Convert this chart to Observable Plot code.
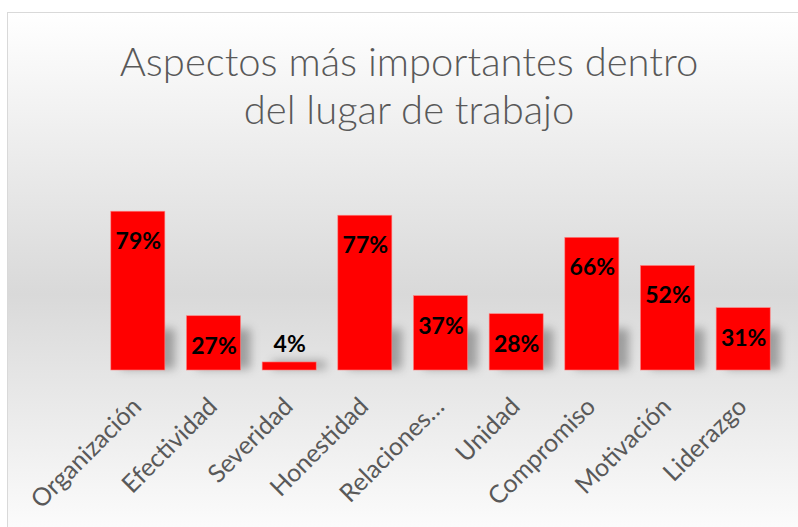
<!DOCTYPE html>
<html>
<head>
<meta charset="utf-8">
<script src="https://cdn.jsdelivr.net/npm/d3@7"></script>
<script src="https://cdn.jsdelivr.net/npm/@observablehq/plot@0.6"></script>
<style>
  html, body { margin: 0; padding: 0; background: #fff; width: 798px; height: 527px; overflow: hidden; }
  #frame {
    position: absolute; left: 7px; top: 12px; width: 820px; height: 540px;
    border: 1px solid #d9d9d9;
    background: linear-gradient(to bottom, #ffffff 0%, #d9d9d9 52%, #ffffff 100%);
  }
  #title {
    position: absolute; left: 0; top: 37px; width: 818px; text-align: center;
    font-family: Lato, "Open Sans", sans-serif; font-weight: 300; font-size: 40px; line-height: 48px;
    color: #595959;
  }
  #chart { position: absolute; left: 0; top: 140px; }
</style>
</head>
<body>
<div id="frame"></div>
<div id="title">Aspectos más importantes dentro<br>del lugar de trabajo</div>
<div id="chart"></div>
<script>
const categories = ["Organización", "Efectividad", "Severidad", "Honestidad", "Relaciones…", "Unidad", "Compromiso", "Motivación", "Liderazgo"];
const values = [0.79, 0.27, 0.04, 0.77, 0.37, 0.28, 0.66, 0.52, 0.31];
const labels = ["79%", "27%", "4%", "77%", "37%", "28%", "66%", "52%", "31%"];

const data = categories.map((c, i) => ({name: c, value: values[i], label: labels[i]}));

const chart = Plot.plot({
  width: 798,
  height: 387,
  marginTop: 29,
  marginBottom: 157,
  marginLeft: 100,
  marginRight: 17,
  style: {background: "transparent", overflow: "visible"},
  x: {domain: categories, paddingInner: 0.286, paddingOuter: 0.143, round: false, axis: null},
  y: {domain: [0, 1], axis: null},
  marks: [
    Plot.barY(data, {x: "name", y1: 0, y2: d => Math.min(d.value, 0.2), fill: "#000", fillOpacity: 0.3, dx: 10, dy: -1}),
    Plot.barY(data, {x: "name", y: "value", fill: "#ff0000", stroke: "#ff8080", strokeWidth: 0.6}),
    Plot.text(data.filter(d => d.value >= 0.1), {x: "name", y: "value", text: "label", dy: 30, fill: "#000",
      fontFamily: "Lato, sans-serif", fontWeight: "bold", fontSize: 23}),
    Plot.text(data.filter(d => d.value < 0.1), {x: "name", y: "value", text: "label", dy: -18, fill: "#000",
      fontFamily: "Lato, sans-serif", fontWeight: "bold", fontSize: 23}),
    Plot.text(data, {x: "name", y: 0, text: "name", rotate: -45, textAnchor: "end", dx: -1, dy: 32, fill: "#595959",
      fontFamily: "Lato, sans-serif", fontSize: 25})
  ]
});

// soft blur for the floor shadow (first bar group)
const ns = "http://www.w3.org/2000/svg";
const defs = document.createElementNS(ns, "defs");
const filter = document.createElementNS(ns, "filter");
filter.setAttribute("id", "shadowBlur");
filter.setAttribute("x", "-50%"); filter.setAttribute("y", "-50%");
filter.setAttribute("width", "200%"); filter.setAttribute("height", "200%");
const blur = document.createElementNS(ns, "feGaussianBlur");
blur.setAttribute("stdDeviation", "5");
filter.appendChild(blur);
defs.appendChild(filter);
chart.insertBefore(defs, chart.firstChild);
const barGroups = chart.querySelectorAll('g[aria-label="bar"]');
if (barGroups.length) barGroups[0].setAttribute("filter", "url(#shadowBlur)");

document.getElementById("chart").appendChild(chart);
</script>
</body>
</html>
